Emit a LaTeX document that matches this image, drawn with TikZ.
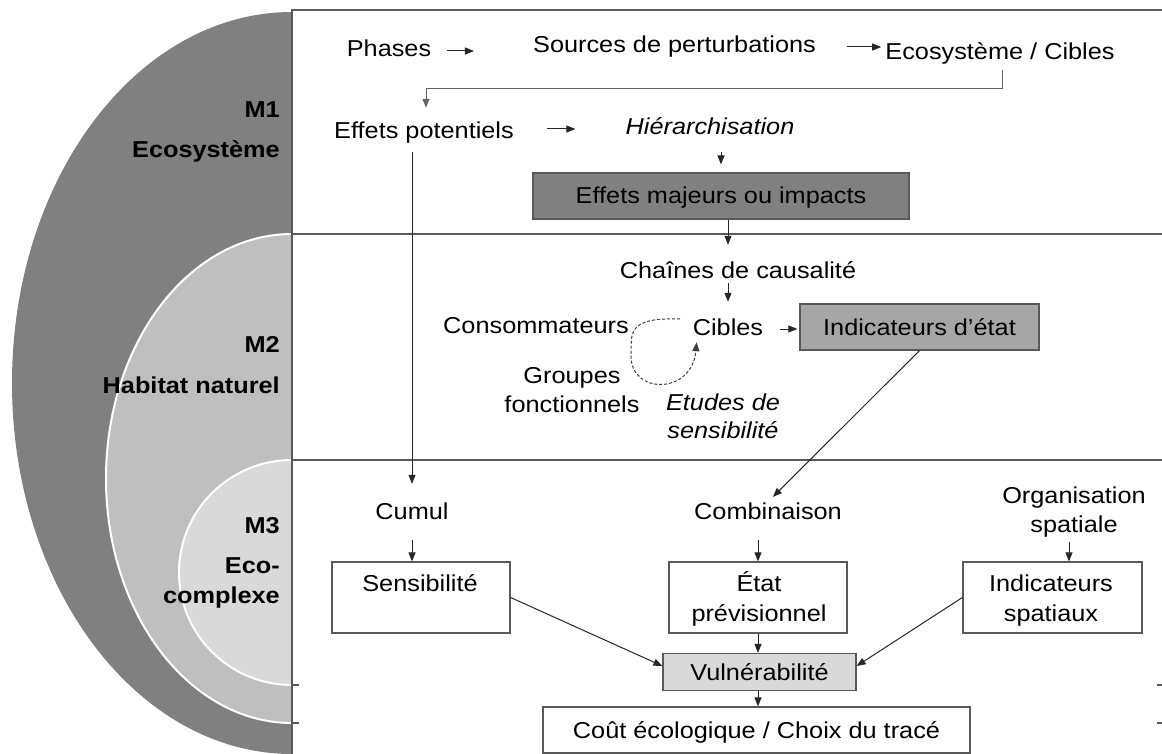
\documentclass[tikz,border=0pt]{standalone}
\usepackage{fontspec}
\setmainfont{Liberation Sans}[FakeStretch=1.1]
\usetikzlibrary{arrows.meta,calc}
\definecolor{gA}{HTML}{808080}
\definecolor{gB}{HTML}{BFBFBF}
\definecolor{gC}{HTML}{D9D9D9}
\definecolor{gD}{HTML}{A6A6A6}
\definecolor{frm}{HTML}{595959}
\newcommand\fsz{\fontsize{23}{28}\selectfont}
\begin{document}
\begin{tikzpicture}[x=1pt,y=-1pt,
  txt/.style={anchor=base,inner sep=0pt,font=\fsz,text height=17pt,text depth=5pt},
  itx/.style={txt,font=\fsz\itshape},
  lbl/.style={anchor=base east,inner sep=0pt,font=\fsz\bfseries},
  boxn/.style={draw=frm,line width=1.2pt,inner sep=0pt,font=\fsz,text height=16pt,text depth=0pt},
  arr/.style={-{Triangle[length=9pt,width=7pt]},line width=1pt,draw=black!85},
  frame/.style={draw=frm,line width=1.3pt}]
\useasboundingbox (0,0) rectangle (1162,754);
\fill[white] (0,0) rectangle (1162,754);
% nested half ellipses
\fill[gA] (292,12) arc[start angle=-90,end angle=-270,x radius=280,y radius=371] -- cycle;
\fill[gB] (292,234) arc[start angle=-90,end angle=-270,x radius=186,y radius=244.5] -- cycle;
\draw[white,line width=2pt] (292,234) arc[start angle=-90,end angle=-270,x radius=186,y radius=244.5];
\fill[gC] (292,460) arc[start angle=-90,end angle=-270,x radius=113,y radius=112.5] -- cycle;
\draw[white,line width=2pt] (292,460) arc[start angle=-90,end angle=-270,x radius=113,y radius=112.5];
% frame
\draw[frame] (292,754) -- (292,10) -- (1162,10);
\draw[frame] (292,234) -- (1162,234);
\draw[frame] (292,460) -- (1162,460);
\draw[frame] (292,685) -- (299,685);
\draw[frame] (292,723) -- (299,723);
\draw[frame] (1157,685) -- (1162,685);
\draw[frame] (1157,723) -- (1162,723);
% left labels
\node[lbl] (m1) at (280,118) {M1};
\node[lbl] (m1b) at (280,158) {Ecosystème};
\node[lbl] (m2) at (280,352) {M2};
\node[lbl] (m2b) at (280,393) {Habitat naturel};
\node[lbl] (m3) at (280,533) {M3};
\node[lbl] (m3b) at (280,573) {Eco-};
\node[lbl] (m3c) at (280,603) {complexe};
% M1 panel
\node[txt] (phases) at (389,57) {Phases};
\node[txt] (sources) at (674.5,53) {Sources de perturbations};
\node[txt] (ecocib) at (1000,60) {Ecosystème / Cibles};
\node[txt] (effpot) at (424,139) {Effets potentiels};
\node[itx] (hier) at (710,135) {Hiérarchisation};
\node[boxn,fill=gA,minimum width=376pt,minimum height=46pt] (majeurs) at (721,196) {Effets majeurs ou impacts};
% M2 panel
\node[txt] (chaines) at (738,278) {Chaînes de causalité};
\node[txt] (cibles) at (728,335) {Cibles};
\node[txt] (conso) at (536,333) {Consommateurs};
\node[boxn,fill=gD,minimum width=239pt,minimum height=46pt] (indetat) at (919.5,327) {Indicateurs d’état};
\node[txt] (groupes) at (572,383) {Groupes};
\node[txt] (fonct) at (572,412) {fonctionnels};
\node[itx] (etudes) at (723,410) {Etudes de};
\node[itx] (sensib) at (723,438) {sensibilité};
% M3 panel
\node[txt] (cumul) at (412,519) {Cumul};
\node[txt] (combi) at (768,519) {Combinaison};
\node[txt] (orga) at (1074,503) {Organisation};
\node[txt] (spat) at (1074,532) {spatiale};
\node[boxn,minimum width=178pt,minimum height=71pt] (sensbox) at (421,597.5) {};
\node[txt] (sensT) at (420,591) {Sensibilité};
\node[boxn,minimum width=178pt,minimum height=71pt] (etatbox) at (758,597.5) {};
\node[txt] (etatT1) at (759,591) {État};
\node[txt] (etatT2) at (759,621) {prévisionnel};
\node[boxn,minimum width=179pt,minimum height=71pt] (indspbox) at (1052.5,597.5) {};
\node[txt] (indT1) at (1051,591) {Indicateurs};
\node[txt] (indT2) at (1051,621) {spatiaux};
\node[boxn,fill=gC,minimum width=193pt,minimum height=37pt] (vuln) at (759.5,672) {Vulnérabilité};
\node[boxn,minimum width=427pt,minimum height=46pt] (cout) at (756.5,730) {Coût écologique / Choix du tracé};
% connectors
\coordinate (elb) at (0,89);
\draw[arr,shorten <=16pt,shorten >=59pt] (phases.east) -- (phases.east -| sources.west);
\draw[arr,shorten <=31pt,shorten >=4pt] (sources.east) -- (sources.east -| ecocib.west);
\draw[arr,draw=black!60,shorten <=5pt,shorten >=14pt] ([xshift=2pt]ecocib.south) -- ([xshift=2pt]ecocib.south |- elb) -- ([xshift=2pt]effpot.north |- elb) -- ([xshift=2pt]effpot.north);
\draw[arr,shorten <=33pt,shorten >=50pt] (hier.west -| effpot.east) -- (hier.west);
\draw[arr,shorten <=12pt,shorten >=8pt] (hier.south -| majeurs.north) -- (majeurs.north);
\draw[arr,shorten >=16pt] (majeurs.south -| cibles.north) -- (chaines.north -| cibles.north);
\draw[arr,shorten >=16pt] (chaines.south -| cibles.north) -- (cibles.north);
\draw[arr,shorten <=17pt,shorten >=2pt] (cibles.east) -- (cibles.east -| indetat.west);
\draw[-{Triangle[length=9pt,width=7pt]},line width=1pt,draw=black!75,dash pattern=on 3pt off 2pt]
  ($(conso.east)+(51,-8)$) .. controls (625,317) and (632,335) .. (631,355)
  .. controls (630,395) and (692,395) .. ([xshift=4pt,yshift=-2pt]cibles.south west);
\draw[arr,shorten <=8pt,shorten >=18pt] (effpot.south -| cumul.north) -- (cumul.north);
\draw[arr,shorten >=7pt] (indetat.south) -- (combi.north);
\draw[arr,shorten <=16pt] (cumul.south) -- (cumul.south |- sensbox.north);
\draw[arr,shorten <=16pt] (combi.south -| etatbox.north) -- (etatbox.north);
\draw[arr,shorten <=5pt] ([xshift=-5pt]spat.south) -- ([xshift=-5pt]spat.south |- indspbox.north);
\draw[arr] (etatbox.south) -- (etatbox.south |- vuln.north);
\draw[arr] (sensbox.east) -- ([yshift=6pt]vuln.west);
\draw[arr] (indspbox.west) -- ([yshift=6pt]vuln.east);
\draw[arr] (vuln.south -| etatbox.south) -- (etatbox.south |- cout.north);
\end{tikzpicture}
\end{document}
